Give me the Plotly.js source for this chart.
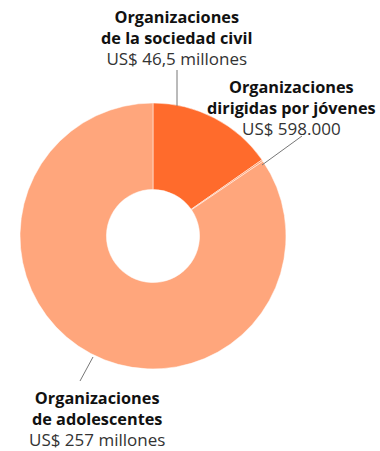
<!DOCTYPE html>
<html>
<head>
<meta charset="utf-8">
<script src="https://cdn.plot.ly/plotly-3.0.1.min.js"></script>
<style>html,body{margin:0;padding:0;background:#fff;}#chart{width:380px;height:451px;}</style>
</head>
<body>
<div id="chart"></div>
<script>
const categories = ["Organizaciones de la sociedad civil", "Organizaciones dirigidas por jóvenes", "Organizaciones de adolescentes"];
const valuesMillions = [46.5, 0.598, 257];
const valueLabels = ["US$ 46,5 millones", "US$ 598.000", "US$ 257 millones"];
const titleLines = [["Organizaciones", "de la sociedad civil"], ["Organizaciones", "dirigidas por jóvenes"], ["Organizaciones", "de adolescentes"]];
const colors = ["#FF6B2C", "#FF9461", "#FFA67C"];

const W = 380, H = 451;
const px = x => x / W;
const py = y => 1 - y / H;

const labelPos = [[177, 38], [291, 108], [97, 419]];
const leaders = [[[177, 70], [177, 106]], [[262, 165], [302, 136]], [[93, 357], [80, 381]]];

const annotations = categories.map((c, i) => ({
  xref: "paper", yref: "paper",
  x: px(labelPos[i][0]), y: py(labelPos[i][1]),
  xanchor: "center", yanchor: "middle",
  showarrow: false, align: "center",
  text: "<b>" + titleLines[i].join("<br>") + "</b><br><span style='color:#333;font-size:17px'>" + valueLabels[i] + "</span>",
  font: {family: "'Open Sans', sans-serif", size: 16.3, color: "#111"}
}));

const shapes = leaders.map(l => ({
  type: "line", xref: "paper", yref: "paper",
  x0: px(l[0][0]), y0: py(l[0][1]), x1: px(l[1][0]), y1: py(l[1][1]),
  line: {color: "#777", width: 1}
}));

Plotly.newPlot("chart", [{
  type: "pie",
  labels: categories,
  values: valuesMillions,
  sort: false,
  direction: "clockwise",
  rotation: 0,
  hole: 0.35,
  textinfo: "none",
  hoverinfo: "label+value",
  marker: {colors: colors, line: {color: "#fff", width: 0.5}},
  domain: {x: [px(20), px(286)], y: [py(369), py(103)]},
  showlegend: false
}], {
  width: W, height: H,
  margin: {l: 0, r: 0, t: 0, b: 0},
  paper_bgcolor: "#fff",
  annotations: annotations,
  shapes: shapes
}, {staticPlot: true});
</script>
</body>
</html>
